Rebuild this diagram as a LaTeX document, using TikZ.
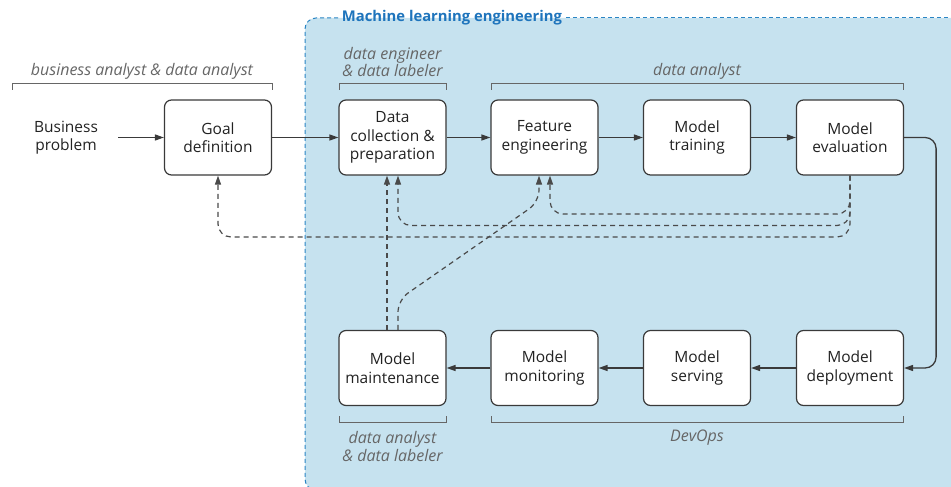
\documentclass[tikz,border=0pt]{standalone}
\usepackage{fontspec}
\setmainfont{Open Sans}
\usetikzlibrary{arrows.meta,calc}
\definecolor{mlfill}{HTML}{C6E2EF}
\definecolor{mlborder}{HTML}{2A85C4}
\definecolor{mltitle}{HTML}{1E74BC}
\definecolor{boxline}{HTML}{3A3A3A}
\definecolor{txt}{HTML}{222222}
\definecolor{role}{HTML}{666666}
\definecolor{dash}{HTML}{4A4A4A}
\tikzset{
  stage/.style={draw=boxline, fill=white, rounded corners=7pt, line width=1.2pt,
    minimum width=107pt, minimum height=75pt, inner sep=0pt, align=center,
    font=\fontsize{15.5}{18.5}\selectfont, text=txt},
  plain/.style={align=center, font=\fontsize{15.5}{18.5}\selectfont, text=txt, inner sep=0pt},
  rolelabel/.style={align=center, font=\fontsize{16}{17.5}\selectfont\itshape, text=role, inner sep=0pt},
  bracket/.style={draw=role, line width=1pt},
  arr/.style={draw=boxline, line width=1.3pt, -{Triangle[length=9pt,width=6pt]}},
  dasharr/.style={draw=dash, line width=1.2pt, dash pattern=on 5pt off 4pt, -{Triangle[length=9pt,width=6pt]}},
}
\begin{document}
\begin{tikzpicture}[x=1pt,y=-1pt]
\useasboundingbox (0,0) rectangle (951,487);
\clip (0,0) rectangle (951,487);
% ML engineering region
\fill[mlfill, rounded corners=11pt] (305,18) rectangle (1000,490);
\draw[mlborder, line width=1pt, dash pattern=on 4pt off 3pt, rounded corners=11pt]
  (338,18) -- (305,18) -- (305,490) -- (1000,490);
\draw[mlborder, line width=1pt, dash pattern=on 4pt off 3pt] (566,18) -- (1000,18);
\node[font=\fontsize{14.8}{16}\selectfont\bfseries, text=mltitle, inner sep=0pt] (title) at (452,18) {Machine learning engineering};

% stages
\node[plain] (bp) at (66,137.5) {Business\\problem};
\node[stage] (goal) at (218,137.5) {Goal\\definition};
\node[stage] (data) at (392.5,137.5) {Data\\collection \&\\preparation};
\node[stage] (feat) at (544.5,137.5) {Feature\\engineering};
\node[stage] (train) at (697,137.5) {Model\\training};
\node[stage] (eval) at (850,137.5) {Model\\evaluation};
\node[stage] (maint) at (392.5,368) {Model\\maintenance};
\node[stage] (monit) at (544.5,368) {Model\\monitoring};
\node[stage] (serve) at (697,368) {Model\\serving};
\node[stage] (deploy) at (850,368) {Model\\deployment};

% solid flow
\draw[arr, shorten <=20pt] (bp.east) -- (goal.west);
\draw[arr] (goal.east) -- (data.west);
\draw[arr] (data.east) -- (feat.west);
\draw[arr] (feat.east) -- (train.west);
\draw[arr] (train.east) -- (eval.west);
\draw[arr, rounded corners=11pt] (eval.east) -- ++(32,0) |- (deploy.east);
\draw[arr] (deploy.west) -- (serve.east);
\draw[arr] (serve.west) -- (monit.east);
\draw[arr] (monit.west) -- (maint.east);

% dashed feedback
\coordinate (fr) at ($(feat.south)+(5.5,0)$);
\coordinate (fl) at ($(feat.south)+(-5.5,0)$);
\coordinate (dr) at ($(data.south)+(5.5,0)$);
\coordinate (dl) at ($(data.south)+(-5.5,0)$);
\coordinate (ml) at ($(maint.north)+(-5.5,0)$);
\coordinate (mr) at ($(maint.north)+(5.5,0)$);
\draw[dasharr, rounded corners=13pt] (eval.south) |- (550,214) -- (fr);
\draw[dasharr, rounded corners=13pt] (eval.south) |- (398,225.5) -- (dr);
\draw[dasharr, rounded corners=13pt] (eval.south) |- (218,237) -- (goal.south);
\draw[dasharr] (ml) -- (dl);
\draw[dasharr, rounded corners=12pt] (mr) -- (398,300) -- (539,202) -- (fl);

% role brackets
\node[rolelabel] (r1) at (142,71) {business analyst \& data analyst};
\draw[bracket] (12,90) -- (12,84) -- (272,84) -- (272,90);
\node[rolelabel] (r2) at (392.5,62) {data engineer\\\& data labeler};
\draw[bracket] (339,90) -- (339,84) -- (446,84) -- (446,90);
\node[rolelabel] (r3) at (697,71) {data analyst};
\draw[bracket] (491,90) -- (491,84) -- (903,84) -- (903,90);
\draw[bracket] (339,416) -- (339,422) -- (446,422) -- (446,416);
\node[rolelabel] (r4) at (392.5,446.5) {data analyst\\\& data labeler};
\draw[bracket] (491,416) -- (491,422) -- (903,422) -- (903,416);
\node[rolelabel] (r5) at (697,438) {DevOps};
\end{tikzpicture}
\end{document}
